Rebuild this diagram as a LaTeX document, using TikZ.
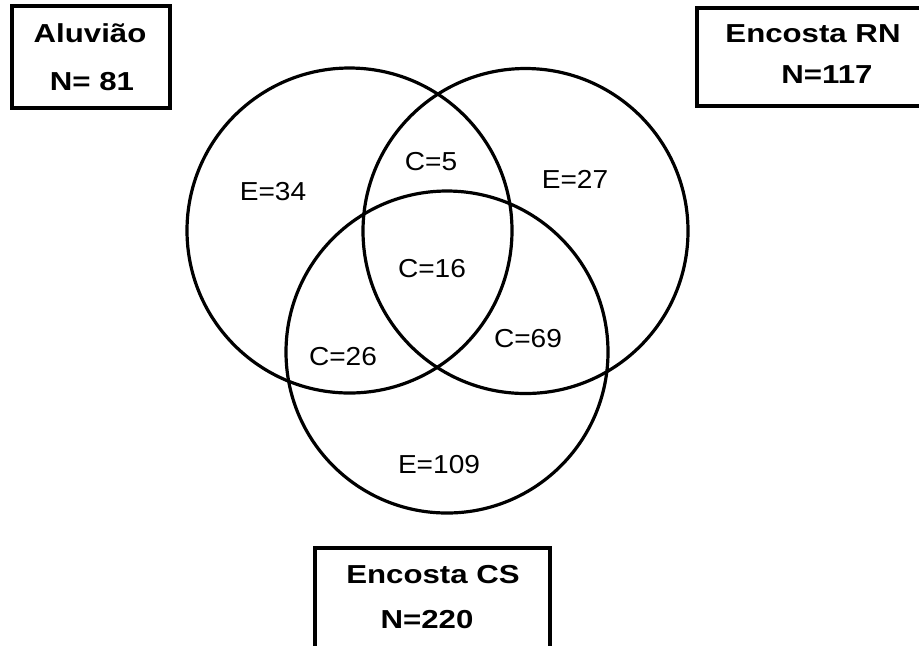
\documentclass[tikz,border=0pt]{standalone}
\usepackage{fontspec}
\setmainfont{Liberation Sans}
\newfontfamily\labelfont[FakeStretch=1.08]{Liberation Sans}
\newfontfamily\titlefont[FakeStretch=1.2]{Liberation Sans Bold}
\usepackage{tikz}

\begin{document}
\begin{tikzpicture}[x=0.5pt, y=-0.5pt,
      ring/.style={circle, draw=black, line width=1.6pt, inner sep=0pt},
      sitebox/.style={rectangle, draw=black, line width=1.8pt, inner sep=0pt},
      sitename/.style={anchor=base, font=\titlefont\fontsize{13pt}{15pt}\selectfont},
      count/.style={anchor=base, font=\labelfont\fontsize{13pt}{15pt}\selectfont},
    ]
      \useasboundingbox (0,0) rectangle (919,645);

      % circles
      \node[ring, minimum size=162.5pt] (aluv) at (349.5, 230.5) {};
      \node[ring, minimum size=162.5pt] (rn)   at (525.5, 231)   {};
      \node[ring, minimum size=161pt]   (cs)   at (447,   352)   {};

      % site boxes
      \node[sitebox, minimum width=79pt,    minimum height=51pt]   (boxA)  at (91,    57)    {};
      \node[sitebox, minimum width=114pt,   minimum height=49pt]   (boxRN) at (811,   57)    {};
      \node[sitebox, minimum width=117.5pt, minimum height=53.5pt] (boxCS) at (432.5, 601.5) {};

      \node[sitename] (nameA)  at (90,  42)  {Aluvião};
      \node[sitename] (nA)     at (92,  90)  {N= 81};
      \node[sitename] (nameRN) at (813, 42)  {Encosta RN};
      \node[sitename] (nRN)    at (827, 83)  {N=117};
      \node[sitename] (nameCS) at (433, 583) {Encosta CS};
      \node[sitename] (nCS)    at (427, 628) {N=220};

      % region counts
      \node[count] (eA)   at (273, 200) {E=34};
      \node[count] (cARN) at (431, 170) {C=5};
      \node[count] (eRN)  at (575, 188) {E=27};
      \node[count] (cAll) at (432, 277) {C=16};
      \node[count] (cACS) at (343, 365) {C=26};
      \node[count] (cRCS) at (528, 347) {C=69};
      \node[count] (eCS)  at (439, 473) {E=109};
    \end{tikzpicture}
\end{document}
